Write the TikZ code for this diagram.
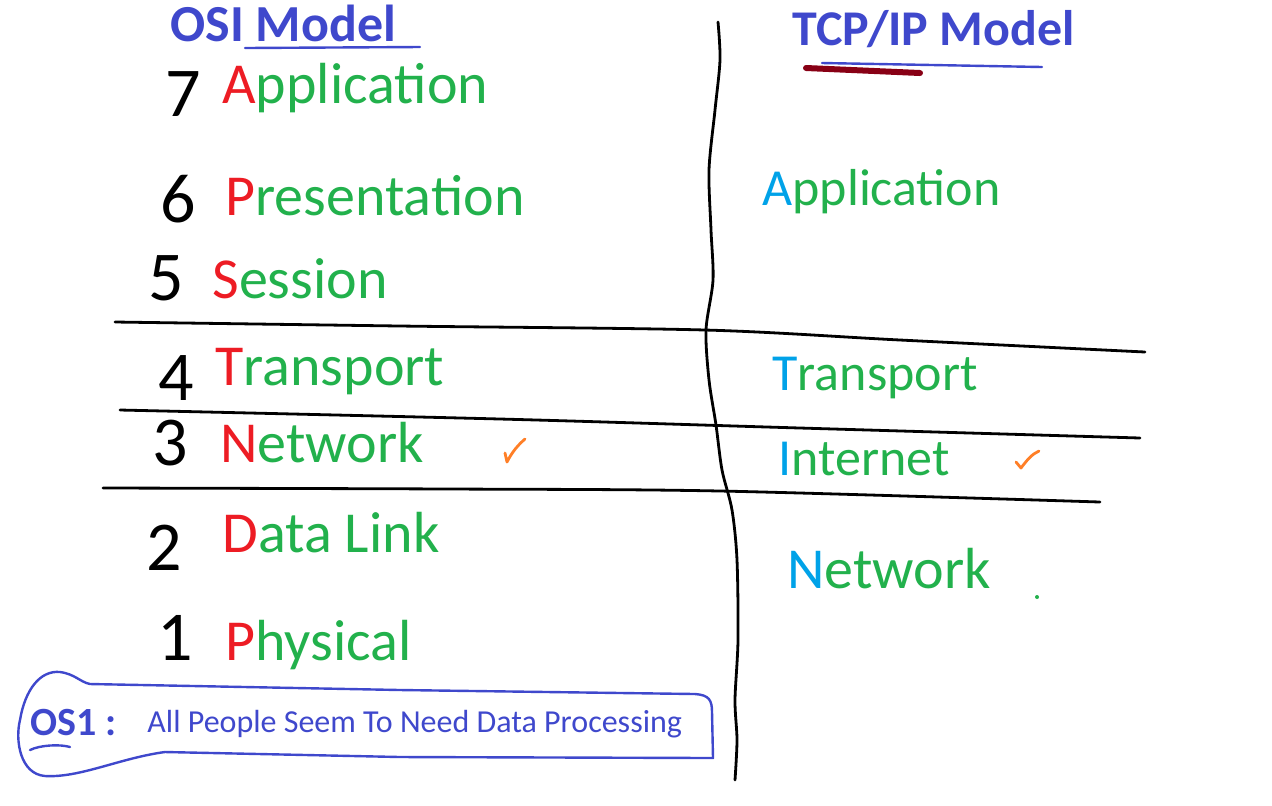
\documentclass[tikz,border=0pt]{standalone}
\usepackage{fontspec}
\setmainfont{Carlito}
\definecolor{penblue}{HTML}{3F48CC}
\definecolor{penred}{HTML}{ED1C24}
\definecolor{pengreen}{HTML}{22B14C}
\definecolor{pencyan}{HTML}{00A2E8}
\definecolor{penorange}{HTML}{FF7F27}
\definecolor{pendark}{HTML}{880015}

\begin{document}
\begin{tikzpicture}[x=0.5pt, y=-0.5pt,
  num/.style={font=\fontsize{35}{35}\selectfont, text=black, anchor=base west, inner sep=0pt},
  layer/.style={font=\fontsize{29}{29}\selectfont, text=pengreen, anchor=base west, inner sep=0pt},
  tlayer/.style={layer, font=\fontsize{26}{26}\selectfont},
  head/.style={font=\fontsize{25}{25}\selectfont\bfseries, text=penblue, anchor=base west, inner sep=0pt},
  ink/.style={line width=1.4pt, line cap=round, line join=round},
  pen/.style={ink, penblue, line width=1.2pt}
]
\useasboundingbox (0,0) rectangle (1272,805);

% headings
\node[head, font=\fontsize{26}{26}\selectfont\bfseries] (osihead) at (170,41) {OSI Model};
\draw[pen] (245,48) -- (420,47);
\node[head] (tcphead) at (792,45) {TCP/IP Model};
\draw[pen] (822,63) -- (1042,67);
\draw[pendark, line width=3pt, line cap=round] (806,68) -- (920,73);

% layer numbers
\node[num] (n7) at (165,116) {7};
\node[num] (n6) at (160,222) {6};
\node[num] (n5) at (148,300) {5};
\node[num] (n4) at (158,400) {4};
\node[num] (n3) at (152,465) {3};
\node[num] (n2) at (146,570) {2};
\node[num] (n1) at (157,660) {1};

% OSI layers
\node[layer] (app) at (222,103) {\textcolor{penred}{A}pplication};
\node[layer] (pres) at (225,215) {\textcolor{penred}{P}resentation};
\node[layer] (sess) at (212,298) {\textcolor{penred}{S}ession};
\node[layer] (trans) at (215,385) {\textcolor{penred}{T}ransport};
\node[layer] (net) at (220,462) {\textcolor{penred}{N}etwork};
\node[layer] (dlink) at (222,552) {\textcolor{penred}{D}ata Link};
\node[layer] (phys) at (225,660) {\textcolor{penred}{P}hysical};

% TCP/IP layers
\node[tlayer] (tapp) at (762,205) {\textcolor{pencyan}{A}pplication};
\node[tlayer] (ttrans) at (772,390) {\textcolor{pencyan}{T}ransport};
\node[tlayer] (tnet) at (778,475) {\textcolor{pencyan}{I}nternet};
\node[layer] (tlink) at (787,588) {\textcolor{pencyan}{N}etwork};
\fill[pengreen] (1037,597) circle (2);

% ticks
\draw[ink, penorange] (505,453) -- (507,462) .. controls (512,452) and (518,445) .. (525,439);
\draw[ink, penorange] (1016,462) -- (1021,468) .. controls (1027,460) and (1032,454) .. (1039,451);

% dividers
\draw[ink] plot[smooth] coordinates {(718,22) (720,60) (715,110) (709,170) (711,230) (713,280) (706,330) (709,380) (716,425) (722,470) (732,510) (737,560) (738,640) (735,700) (737,740) (735,780)};
\draw[ink] plot[smooth] coordinates {(115,322) (400,326) (705,330) (900,340) (1145,352)};
\draw[ink] plot[smooth] coordinates {(120,410) (500,419) (800,428) (1140,438)};
\draw[ink] plot[smooth] coordinates {(103,488) (450,489) (720,491) (1100,502)};

% mnemonic bubble
\draw[pen] (90,684) -- (400,690) -- (695,694) .. controls (709,695) and (712,700) .. (712,712)
  -- (713,758) -- (400,757) -- (165,752)
  .. controls (120,758) and (80,778) .. (45,776) .. controls (20,774) and (15,740) .. (20,720)
  .. controls (25,690) and (40,670) .. (60,672) .. controls (75,674) and (80,682) .. (90,684);
\node[head, font=\fontsize{20}{20}\selectfont\bfseries] (os1) at (30,735) {OS1 :};
\draw[pen] (30,750) .. controls (40,745) and (60,744) .. (70,747);
\node[anchor=base west, inner sep=0pt, text=penblue, font=\fontsize{16}{16}\selectfont] (mnem) at (147,732) {All People Seem To Need Data Processing};
\end{tikzpicture}
\end{document}
